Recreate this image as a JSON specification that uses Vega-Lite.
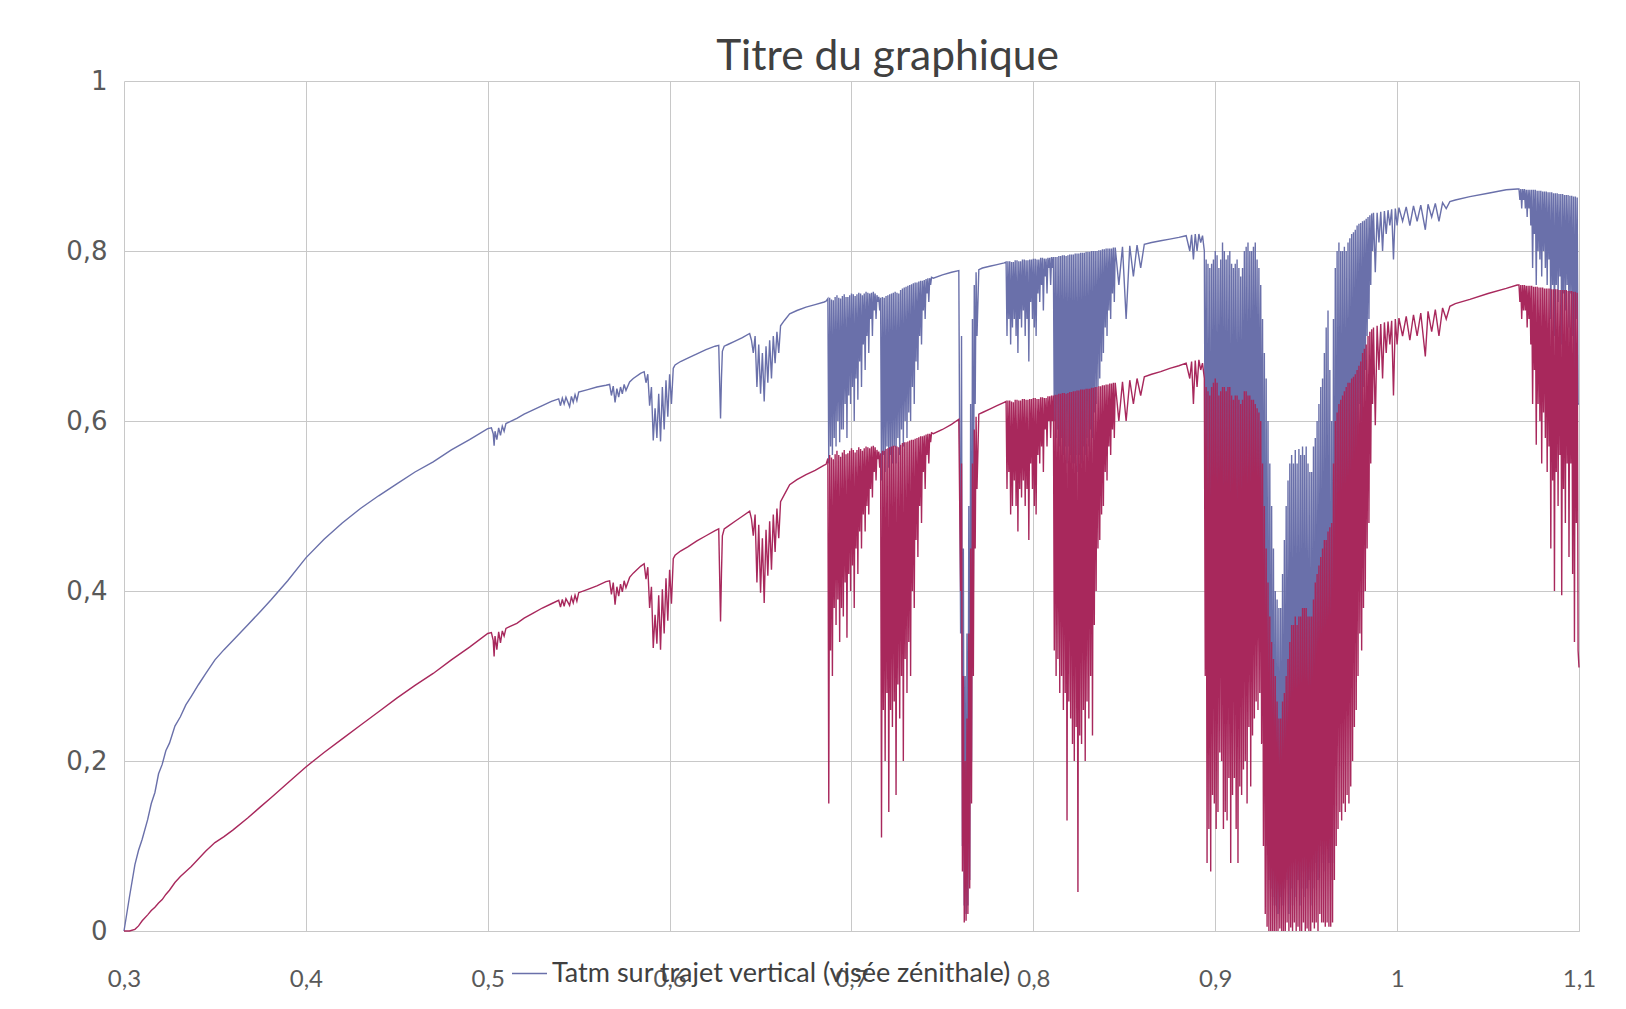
{"$schema":"https://vega.github.io/schema/vega-lite/v6.json","width":1455,"height":850,"autosize":{"type":"none"},"padding":{"left":124,"top":81,"right":47,"bottom":78},"background":"white","config":{"view":{"stroke":null}},
"title":{"text":"Titre du graphique","font":"Lato","fontSize":42.5,"fontWeight":"normal","color":"#404040","anchor":"middle","dx":36,"dy":52,"offset":8,"baseline":"alphabetic"},
"data":{"values":[
{"x":0.300,"b":0,"r":0},{"x":0.303,"b":0.040,"r":0},{"x":0.306,"b":0.078,"r":0.002},{"x":0.308,"b":0.095,"r":0.006},{"x":0.310,"b":0.108,"r":0.012},{"x":0.313,"b":0.131,"r":0.019},{"x":0.315,"b":0.150,"r":0.024},{"x":0.317,"b":0.163,"r":0.028},{"x":0.319,"b":0.185,"r":0.033},{"x":0.321,"b":0.196,"r":0.037},{"x":0.323,"b":0.212,"r":0.043},{"x":0.325,"b":0.221,"r":0.048},{"x":0.328,"b":0.241,"r":0.057},{"x":0.331,"b":0.252,"r":0.064},{"x":0.334,"b":0.266,"r":0.070},{"x":0.337,"b":0.276,"r":0.076},{"x":0.341,"b":0.290,"r":0.085},{"x":0.345,"b":0.303,"r":0.094},{"x":0.350,"b":0.319,"r":0.104},{"x":0.355,"b":0.331,"r":0.111},{"x":0.360,"b":0.342,"r":0.119},{"x":0.368,"b":0.360,"r":0.133},{"x":0.375,"b":0.376,"r":0.146},{"x":0.381,"b":0.390,"r":0.157},{"x":0.390,"b":0.412,"r":0.174},{"x":0.400,"b":0.439,"r":0.193},{"x":0.410,"b":0.461,"r":0.210},{"x":0.420,"b":0.480,"r":0.226},{"x":0.430,"b":0.497,"r":0.242},{"x":0.440,"b":0.512,"r":0.258},{"x":0.450,"b":0.526,"r":0.274},{"x":0.460,"b":0.540,"r":0.289},{"x":0.470,"b":0.552,"r":0.303},{"x":0.480,"b":0.566,"r":0.319},{"x":0.490,"b":0.578,"r":0.334},{"x":0.500,"b":0.591,"r":0.350},
{"x":0.502,"b":0.592,"r":0.351},{"x":0.503,"b":0.585,"r":0.342},{"x":0.5035,"b":0.571,"r":0.323},{"x":0.504,"b":0.588,"r":0.347},{"x":0.505,"b":0.578,"r":0.331},{"x":0.506,"b":0.592,"r":0.352},{"x":0.507,"b":0.583,"r":0.339},{"x":0.508,"b":0.594,"r":0.353},{"x":0.509,"b":0.588,"r":0.347},{"x":0.510,"b":0.597,"r":0.356},{"x":0.512,"b":0.599,"r":0.358},{"x":0.516,"b":0.603,"r":0.362},{"x":0.520,"b":0.608,"r":0.368},{"x":0.525,"b":0.613,"r":0.374},{"x":0.530,"b":0.618,"r":0.380},{"x":0.535,"b":0.623,"r":0.385},{"x":0.539,"b":0.626,"r":0.389},{"x":0.540,"b":0.618,"r":0.381},{"x":0.541,"b":0.627,"r":0.390},{"x":0.542,"b":0.620,"r":0.382},{"x":0.543,"b":0.628,"r":0.391},{"x":0.545,"b":0.617,"r":0.383},{"x":0.546,"b":0.629,"r":0.393},{"x":0.547,"b":0.622,"r":0.386},{"x":0.548,"b":0.631,"r":0.395},{"x":0.549,"b":0.624,"r":0.388},{"x":0.550,"b":0.634,"r":0.398},{"x":0.555,"b":0.637,"r":0.402},{"x":0.560,"b":0.640,"r":0.406},{"x":0.565,"b":0.642,"r":0.411},{"x":0.567,"b":0.643,"r":0.412},{"x":0.568,"b":0.630,"r":0.396},{"x":0.569,"b":0.641,"r":0.410},{"x":0.570,"b":0.622,"r":0.384},{"x":0.571,"b":0.638,"r":0.405},{"x":0.572,"b":0.628,"r":0.394},{"x":0.573,"b":0.640,"r":0.408},{"x":0.574,"b":0.632,"r":0.399},{"x":0.575,"b":0.643,"r":0.412},{"x":0.576,"b":0.636,"r":0.404},{"x":0.578,"b":0.646,"r":0.416},{"x":0.580,"b":0.650,"r":0.421},{"x":0.584,"b":0.656,"r":0.429},{"x":0.586,"b":0.658,"r":0.432},
{"x":0.587,"b":0.645,"r":0.414},{"x":0.588,"b":0.655,"r":0.428},{"x":0.589,"b":0.618,"r":0.380},{"x":0.590,"b":0.640,"r":0.405},{"x":0.591,"b":0.577,"r":0.333},{"x":0.592,"b":0.615,"r":0.372},{"x":0.593,"b":0.580,"r":0.338},{"x":0.594,"b":0.632,"r":0.395},{"x":0.595,"b":0.576,"r":0.331},{"x":0.596,"b":0.640,"r":0.402},{"x":0.597,"b":0.590,"r":0.350},{"x":0.598,"b":0.648,"r":0.415},{"x":0.599,"b":0.605,"r":0.365},{"x":0.600,"b":0.655,"r":0.425},{"x":0.601,"b":0.620,"r":0.385},{"x":0.602,"b":0.662,"r":0.438},{"x":0.603,"b":0.666,"r":0.442},{"x":0.606,"b":0.670,"r":0.447},{"x":0.610,"b":0.674,"r":0.452},{"x":0.615,"b":0.679,"r":0.459},{"x":0.620,"b":0.684,"r":0.465},{"x":0.625,"b":0.688,"r":0.471},{"x":0.627,"b":0.689,"r":0.473},{"x":0.628,"b":0.603,"r":0.364},{"x":0.6285,"b":0.650,"r":0.420},{"x":0.629,"b":0.682,"r":0.465},{"x":0.630,"b":0.688,"r":0.473},{"x":0.632,"b":0.690,"r":0.476},{"x":0.636,"b":0.694,"r":0.482},{"x":0.640,"b":0.698,"r":0.488},{"x":0.644,"b":0.703,"r":0.494},{"x":0.645,"b":0.695,"r":0.485},{"x":0.646,"b":0.680,"r":0.465},{"x":0.647,"b":0.700,"r":0.490},{"x":0.648,"b":0.640,"r":0.410},{"x":0.649,"b":0.690,"r":0.478},{"x":0.650,"b":0.632,"r":0.398},{"x":0.651,"b":0.680,"r":0.462},{"x":0.652,"b":0.623,"r":0.386},{"x":0.653,"b":0.688,"r":0.472},{"x":0.654,"b":0.645,"r":0.418},{"x":0.655,"b":0.695,"r":0.482},{"x":0.656,"b":0.650,"r":0.425},{"x":0.657,"b":0.700,"r":0.490},{"x":0.658,"b":0.668,"r":0.446},{"x":0.659,"b":0.705,"r":0.497},{"x":0.660,"b":0.680,"r":0.462},{"x":0.661,"b":0.712,"r":0.505},{"x":0.663,"b":0.718,"r":0.513},{"x":0.666,"b":0.726,"r":0.525},{"x":0.670,"b":0.730,"r":0.531},{"x":0.675,"b":0.734,"r":0.537},{"x":0.680,"b":0.737,"r":0.542},{"x":0.685,"b":0.740,"r":0.548},{"x":0.686,"b":0.741,"r":0.549},
{"x":0.687,"b":0.744,"r":0.556},{"x":0.6875,"b":0.55,"r":0.15},{"x":0.688,"b":0.745,"r":0.560},{"x":0.6885,"b":0.57,"r":0.33},{"x":0.689,"b":0.743,"r":0.557},{"x":0.6895,"b":0.56,"r":0.30},{"x":0.690,"b":0.742,"r":0.555},{"x":0.6905,"b":0.58,"r":0.38},{"x":0.691,"b":0.746,"r":0.561},{"x":0.6915,"b":0.57,"r":0.36},{"x":0.692,"b":0.748,"r":0.565},{"x":0.6925,"b":0.60,"r":0.39},{"x":0.693,"b":0.745,"r":0.560},{"x":0.6935,"b":0.575,"r":0.34},{"x":0.694,"b":0.744,"r":0.558},{"x":0.6945,"b":0.59,"r":0.38},{"x":0.695,"b":0.747,"r":0.563},{"x":0.6955,"b":0.59,"r":0.37},{"x":0.696,"b":0.749,"r":0.566},{"x":0.6965,"b":0.62,"r":0.41},{"x":0.697,"b":0.746,"r":0.561},{"x":0.6975,"b":0.58,"r":0.345},{"x":0.698,"b":0.746,"r":0.562},{"x":0.6985,"b":0.63,"r":0.42},{"x":0.699,"b":0.748,"r":0.565},{"x":0.6995,"b":0.62,"r":0.40},{"x":0.700,"b":0.750,"r":0.568},{"x":0.7005,"b":0.64,"r":0.43},{"x":0.701,"b":0.749,"r":0.566},{"x":0.7015,"b":0.60,"r":0.38},{"x":0.702,"b":0.747,"r":0.563},{"x":0.7025,"b":0.65,"r":0.45},{"x":0.703,"b":0.749,"r":0.566},{"x":0.7035,"b":0.625,"r":0.42},{"x":0.704,"b":0.751,"r":0.569},{"x":0.7045,"b":0.67,"r":0.47},{"x":0.705,"b":0.750,"r":0.567},{"x":0.7055,"b":0.64,"r":0.45},{"x":0.706,"b":0.748,"r":0.565},{"x":0.7065,"b":0.69,"r":0.49},{"x":0.707,"b":0.750,"r":0.568},{"x":0.7075,"b":0.66,"r":0.47},{"x":0.708,"b":0.752,"r":0.570},{"x":0.7085,"b":0.70,"r":0.50},{"x":0.709,"b":0.751,"r":0.569},{"x":0.7095,"b":0.68,"r":0.49},{"x":0.710,"b":0.750,"r":0.568},{"x":0.7105,"b":0.72,"r":0.52},{"x":0.711,"b":0.751,"r":0.570},{"x":0.7115,"b":0.70,"r":0.51},{"x":0.712,"b":0.752,"r":0.571},{"x":0.7125,"b":0.73,"r":0.54},{"x":0.713,"b":0.750,"r":0.569},{"x":0.7135,"b":0.72,"r":0.53},{"x":0.714,"b":0.748,"r":0.566},{"x":0.7145,"b":0.74,"r":0.555},{"x":0.715,"b":0.746,"r":0.564},{"x":0.7155,"b":0.73,"r":0.545},{"x":0.716,"b":0.745,"r":0.562},{"x":0.7165,"b":0.53,"r":0.11},{"x":0.717,"b":0.746,"r":0.565},{"x":0.7175,"b":0.56,"r":0.26},{"x":0.718,"b":0.745,"r":0.565},{"x":0.7185,"b":0.54,"r":0.20},{"x":0.719,"b":0.747,"r":0.567},{"x":0.7195,"b":0.57,"r":0.28},{"x":0.720,"b":0.748,"r":0.568},{"x":0.7205,"b":0.545,"r":0.14},{"x":0.721,"b":0.749,"r":0.569},{"x":0.7215,"b":0.56,"r":0.26},{"x":0.722,"b":0.750,"r":0.570},{"x":0.7225,"b":0.55,"r":0.24},{"x":0.723,"b":0.751,"r":0.571},{"x":0.7235,"b":0.57,"r":0.27},{"x":0.724,"b":0.752,"r":0.571},{"x":0.7245,"b":0.55,"r":0.16},{"x":0.725,"b":0.751,"r":0.570},{"x":0.7255,"b":0.58,"r":0.29},{"x":0.726,"b":0.750,"r":0.569},{"x":0.7265,"b":0.56,"r":0.25},{"x":0.727,"b":0.754,"r":0.572},{"x":0.7275,"b":0.59,"r":0.30},{"x":0.728,"b":0.756,"r":0.574},{"x":0.7285,"b":0.57,"r":0.20},{"x":0.729,"b":0.757,"r":0.575},{"x":0.7295,"b":0.60,"r":0.32},{"x":0.730,"b":0.758,"r":0.575},{"x":0.7305,"b":0.58,"r":0.28},{"x":0.731,"b":0.759,"r":0.576},{"x":0.7315,"b":0.61,"r":0.34},{"x":0.732,"b":0.760,"r":0.577},{"x":0.7325,"b":0.60,"r":0.30},{"x":0.733,"b":0.761,"r":0.578},{"x":0.7335,"b":0.64,"r":0.40},{"x":0.734,"b":0.762,"r":0.578},{"x":0.7345,"b":0.62,"r":0.38},{"x":0.735,"b":0.763,"r":0.579},{"x":0.7355,"b":0.67,"r":0.46},{"x":0.736,"b":0.763,"r":0.580},{"x":0.7365,"b":0.66,"r":0.44},{"x":0.737,"b":0.764,"r":0.581},{"x":0.7375,"b":0.70,"r":0.50},{"x":0.738,"b":0.765,"r":0.582},{"x":0.7385,"b":0.69,"r":0.48},{"x":0.739,"b":0.765,"r":0.582},{"x":0.7395,"b":0.73,"r":0.54},{"x":0.740,"b":0.766,"r":0.583},{"x":0.7405,"b":0.72,"r":0.52},{"x":0.741,"b":0.767,"r":0.584},{"x":0.7415,"b":0.75,"r":0.56},{"x":0.742,"b":0.768,"r":0.585},{"x":0.7425,"b":0.74,"r":0.55},{"x":0.743,"b":0.768,"r":0.585},{"x":0.7435,"b":0.76,"r":0.575},{"x":0.744,"b":0.769,"r":0.586},{"x":0.745,"b":0.768,"r":0.585},{"x":0.750,"b":0.772,"r":0.590},{"x":0.755,"b":0.775,"r":0.596},{"x":0.759,"b":0.777,"r":0.602},
{"x":0.760,"b":0.35,"r":0.40},{"x":0.7605,"b":0.70,"r":0.55},{"x":0.761,"b":0.10,"r":0.07},{"x":0.7615,"b":0.45,"r":0.30},{"x":0.762,"b":0.03,"r":0.01},{"x":0.7625,"b":0.30,"r":0.20},{"x":0.763,"b":0.02,"r":0.012},{"x":0.7635,"b":0.35,"r":0.25},{"x":0.764,"b":0.03,"r":0.02},{"x":0.7645,"b":0.50,"r":0.35},{"x":0.765,"b":0.06,"r":0.05},{"x":0.7655,"b":0.62,"r":0.45},{"x":0.766,"b":0.20,"r":0.15},{"x":0.7665,"b":0.72,"r":0.55},{"x":0.767,"b":0.40,"r":0.30},{"x":0.7675,"b":0.76,"r":0.59},{"x":0.768,"b":0.62,"r":0.45},{"x":0.7685,"b":0.775,"r":0.605},{"x":0.769,"b":0.70,"r":0.52},{"x":0.770,"b":0.778,"r":0.608},{"x":0.772,"b":0.780,"r":0.610},{"x":0.776,"b":0.782,"r":0.614},{"x":0.780,"b":0.784,"r":0.618},{"x":0.784,"b":0.786,"r":0.622},
{"x":0.785,"b":0.787,"r":0.623},{"x":0.7855,"b":0.70,"r":0.52},{"x":0.786,"b":0.788,"r":0.624},{"x":0.7865,"b":0.72,"r":0.54},{"x":0.787,"b":0.788,"r":0.624},{"x":0.7875,"b":0.69,"r":0.49},{"x":0.788,"b":0.787,"r":0.623},{"x":0.7885,"b":0.71,"r":0.50},{"x":0.789,"b":0.787,"r":0.622},{"x":0.7895,"b":0.72,"r":0.53},{"x":0.790,"b":0.789,"r":0.625},{"x":0.7905,"b":0.70,"r":0.50},{"x":0.791,"b":0.789,"r":0.625},{"x":0.7915,"b":0.68,"r":0.47},{"x":0.792,"b":0.788,"r":0.624},{"x":0.7925,"b":0.72,"r":0.52},{"x":0.793,"b":0.788,"r":0.624},{"x":0.7935,"b":0.71,"r":0.51},{"x":0.794,"b":0.790,"r":0.626},{"x":0.7945,"b":0.73,"r":0.53},{"x":0.795,"b":0.790,"r":0.626},{"x":0.7955,"b":0.70,"r":0.50},{"x":0.796,"b":0.789,"r":0.625},{"x":0.7965,"b":0.72,"r":0.52},{"x":0.797,"b":0.789,"r":0.625},{"x":0.7975,"b":0.67,"r":0.46},{"x":0.798,"b":0.790,"r":0.626},{"x":0.7985,"b":0.74,"r":0.55},{"x":0.799,"b":0.790,"r":0.626},{"x":0.7995,"b":0.72,"r":0.52},{"x":0.800,"b":0.791,"r":0.627},{"x":0.8005,"b":0.71,"r":0.50},{"x":0.801,"b":0.791,"r":0.627},{"x":0.8015,"b":0.70,"r":0.49},{"x":0.802,"b":0.790,"r":0.626},{"x":0.8025,"b":0.75,"r":0.56},{"x":0.803,"b":0.790,"r":0.626},{"x":0.8035,"b":0.74,"r":0.55},{"x":0.804,"b":0.792,"r":0.628},{"x":0.8045,"b":0.76,"r":0.57},{"x":0.805,"b":0.792,"r":0.628},{"x":0.8055,"b":0.73,"r":0.54},{"x":0.806,"b":0.791,"r":0.627},{"x":0.8065,"b":0.77,"r":0.59},{"x":0.807,"b":0.791,"r":0.627},{"x":0.8075,"b":0.75,"r":0.57},{"x":0.808,"b":0.792,"r":0.629},{"x":0.8085,"b":0.78,"r":0.60},{"x":0.809,"b":0.792,"r":0.629},{"x":0.8095,"b":0.76,"r":0.58},{"x":0.810,"b":0.793,"r":0.630},{"x":0.8105,"b":0.78,"r":0.60},{"x":0.811,"b":0.793,"r":0.630},{"x":0.8115,"b":0.60,"r":0.33},
{"x":0.812,"b":0.793,"r":0.631},{"x":0.8125,"b":0.58,"r":0.30},{"x":0.813,"b":0.793,"r":0.631},{"x":0.8135,"b":0.59,"r":0.32},{"x":0.814,"b":0.794,"r":0.632},{"x":0.8145,"b":0.57,"r":0.28},{"x":0.815,"b":0.794,"r":0.632},{"x":0.8155,"b":0.58,"r":0.30},{"x":0.816,"b":0.795,"r":0.633},{"x":0.8165,"b":0.56,"r":0.26},{"x":0.817,"b":0.795,"r":0.633},{"x":0.8175,"b":0.57,"r":0.28},{"x":0.818,"b":0.794,"r":0.632},{"x":0.8185,"b":0.55,"r":0.13},{"x":0.819,"b":0.795,"r":0.633},{"x":0.8195,"b":0.57,"r":0.27},{"x":0.820,"b":0.796,"r":0.634},{"x":0.8205,"b":0.56,"r":0.25},{"x":0.821,"b":0.796,"r":0.634},{"x":0.8215,"b":0.55,"r":0.22},{"x":0.822,"b":0.796,"r":0.635},{"x":0.8225,"b":0.55,"r":0.20},{"x":0.823,"b":0.797,"r":0.635},{"x":0.8235,"b":0.56,"r":0.24},{"x":0.824,"b":0.797,"r":0.636},{"x":0.8245,"b":0.54,"r":0.046},{"x":0.825,"b":0.797,"r":0.636},{"x":0.8255,"b":0.56,"r":0.23},{"x":0.826,"b":0.798,"r":0.637},{"x":0.8265,"b":0.55,"r":0.22},{"x":0.827,"b":0.798,"r":0.637},{"x":0.8275,"b":0.57,"r":0.26},{"x":0.828,"b":0.798,"r":0.637},{"x":0.8285,"b":0.56,"r":0.20},{"x":0.829,"b":0.799,"r":0.638},{"x":0.8295,"b":0.58,"r":0.27},{"x":0.830,"b":0.799,"r":0.638},{"x":0.8305,"b":0.57,"r":0.25},{"x":0.831,"b":0.799,"r":0.638},{"x":0.8315,"b":0.59,"r":0.30},{"x":0.832,"b":0.800,"r":0.639},{"x":0.8325,"b":0.58,"r":0.23},{"x":0.833,"b":0.800,"r":0.639},{"x":0.8335,"b":0.61,"r":0.36},{"x":0.834,"b":0.800,"r":0.640},{"x":0.8345,"b":0.62,"r":0.40},{"x":0.835,"b":0.800,"r":0.640},{"x":0.8355,"b":0.64,"r":0.45},{"x":0.836,"b":0.801,"r":0.641},{"x":0.8365,"b":0.65,"r":0.46},{"x":0.837,"b":0.801,"r":0.641},{"x":0.8375,"b":0.67,"r":0.49},{"x":0.838,"b":0.802,"r":0.642},{"x":0.8385,"b":0.68,"r":0.50},{"x":0.839,"b":0.802,"r":0.642},{"x":0.8395,"b":0.71,"r":0.54},{"x":0.840,"b":0.803,"r":0.643},{"x":0.8405,"b":0.70,"r":0.53},{"x":0.841,"b":0.803,"r":0.643},{"x":0.8415,"b":0.73,"r":0.57},{"x":0.842,"b":0.803,"r":0.644},{"x":0.8425,"b":0.72,"r":0.56},{"x":0.843,"b":0.803,"r":0.644},{"x":0.8435,"b":0.75,"r":0.59},{"x":0.844,"b":0.804,"r":0.645},{"x":0.8445,"b":0.74,"r":0.58},{"x":0.845,"b":0.804,"r":0.645},
{"x":0.847,"b":0.76,"r":0.60},{"x":0.849,"b":0.805,"r":0.646},{"x":0.851,"b":0.72,"r":0.60},{"x":0.853,"b":0.806,"r":0.648},{"x":0.855,"b":0.77,"r":0.62},{"x":0.857,"b":0.807,"r":0.650},{"x":0.859,"b":0.78,"r":0.63},{"x":0.861,"b":0.808,"r":0.652},{"x":0.865,"b":0.810,"r":0.655},{"x":0.870,"b":0.812,"r":0.658},{"x":0.875,"b":0.814,"r":0.662},{"x":0.880,"b":0.816,"r":0.665},{"x":0.884,"b":0.818,"r":0.668},{"x":0.886,"b":0.80,"r":0.65},{"x":0.887,"b":0.819,"r":0.670},{"x":0.888,"b":0.79,"r":0.62},{"x":0.889,"b":0.820,"r":0.671},{"x":0.890,"b":0.80,"r":0.64},{"x":0.891,"b":0.820,"r":0.672},{"x":0.892,"b":0.81,"r":0.66},{"x":0.893,"b":0.818,"r":0.668},
{"x":0.894,"b":0.80,"r":0.65},{"x":0.8945,"b":0.50,"r":0.30},{"x":0.895,"b":0.79,"r":0.64},{"x":0.8955,"b":0.35,"r":0.08},{"x":0.896,"b":0.785,"r":0.635},{"x":0.8965,"b":0.40,"r":0.12},{"x":0.897,"b":0.78,"r":0.63},{"x":0.8975,"b":0.33,"r":0.07},{"x":0.898,"b":0.785,"r":0.64},{"x":0.8985,"b":0.42,"r":0.16},{"x":0.899,"b":0.79,"r":0.645},{"x":0.8995,"b":0.42,"r":0.15},{"x":0.900,"b":0.80,"r":0.65},{"x":0.9005,"b":0.38,"r":0.12},{"x":0.901,"b":0.795,"r":0.645},{"x":0.9015,"b":0.40,"r":0.14},{"x":0.902,"b":0.78,"r":0.63},{"x":0.9025,"b":0.46,"r":0.21},{"x":0.903,"b":0.79,"r":0.635},{"x":0.9035,"b":0.45,"r":0.20},{"x":0.904,"b":0.81,"r":0.64},{"x":0.9045,"b":0.38,"r":0.12},{"x":0.905,"b":0.80,"r":0.64},{"x":0.9055,"b":0.40,"r":0.14},{"x":0.906,"b":0.79,"r":0.635},{"x":0.9065,"b":0.40,"r":0.13},{"x":0.907,"b":0.795,"r":0.64},{"x":0.9075,"b":0.44,"r":0.18},{"x":0.908,"b":0.80,"r":0.64},{"x":0.9085,"b":0.33,"r":0.08},{"x":0.909,"b":0.785,"r":0.63},{"x":0.9095,"b":0.42,"r":0.16},{"x":0.910,"b":0.78,"r":0.625},{"x":0.9105,"b":0.44,"r":0.18},{"x":0.911,"b":0.785,"r":0.63},{"x":0.9115,"b":0.38,"r":0.12},{"x":0.912,"b":0.79,"r":0.63},{"x":0.9125,"b":0.36,"r":0.08},{"x":0.913,"b":0.78,"r":0.625},{"x":0.9135,"b":0.43,"r":0.17},{"x":0.914,"b":0.77,"r":0.62},{"x":0.9145,"b":0.42,"r":0.16},{"x":0.915,"b":0.78,"r":0.625},{"x":0.9155,"b":0.46,"r":0.19},{"x":0.916,"b":0.80,"r":0.635},{"x":0.9165,"b":0.45,"r":0.20},{"x":0.917,"b":0.805,"r":0.635},{"x":0.9175,"b":0.40,"r":0.15},{"x":0.918,"b":0.81,"r":0.63},{"x":0.9185,"b":0.47,"r":0.24},{"x":0.919,"b":0.80,"r":0.63},{"x":0.9195,"b":0.44,"r":0.17},{"x":0.920,"b":0.80,"r":0.625},{"x":0.9205,"b":0.48,"r":0.23},{"x":0.921,"b":0.805,"r":0.625},{"x":0.9215,"b":0.48,"r":0.25},{"x":0.922,"b":0.81,"r":0.62},{"x":0.9225,"b":0.50,"r":0.27},{"x":0.923,"b":0.79,"r":0.615},{"x":0.9235,"b":0.49,"r":0.26},
{"x":0.924,"b":0.78,"r":0.61},{"x":0.9245,"b":0.50,"r":0.28},{"x":0.925,"b":0.76,"r":0.60},{"x":0.9255,"b":0.45,"r":0.22},{"x":0.926,"b":0.72,"r":0.55},{"x":0.9265,"b":0.30,"r":0.10},{"x":0.927,"b":0.68,"r":0.50},{"x":0.9275,"b":0.15,"r":0.02},{"x":0.928,"b":0.65,"r":0.45},{"x":0.9285,"b":0.10,"r":0.005},{"x":0.929,"b":0.60,"r":0.41},{"x":0.9295,"b":0.06,"r":0.0},{"x":0.930,"b":0.55,"r":0.37},{"x":0.9305,"b":0.05,"r":0.0},{"x":0.931,"b":0.50,"r":0.34},{"x":0.9315,"b":0.04,"r":0.0},{"x":0.932,"b":0.45,"r":0.32},{"x":0.9325,"b":0.03,"r":0.0},{"x":0.933,"b":0.40,"r":0.30},{"x":0.9335,"b":0.03,"r":0.0},{"x":0.934,"b":0.39,"r":0.27},{"x":0.9345,"b":0.02,"r":0.0},{"x":0.935,"b":0.38,"r":0.25},{"x":0.9355,"b":0.04,"r":0.003},{"x":0.936,"b":0.38,"r":0.25},{"x":0.9365,"b":0.03,"r":0.0},{"x":0.937,"b":0.42,"r":0.27},{"x":0.9375,"b":0.03,"r":0.0},{"x":0.938,"b":0.46,"r":0.28},{"x":0.9385,"b":0.05,"r":0.0},{"x":0.939,"b":0.50,"r":0.30},{"x":0.9395,"b":0.06,"r":0.01},{"x":0.940,"b":0.53,"r":0.32},{"x":0.9405,"b":0.02,"r":0.0},{"x":0.941,"b":0.55,"r":0.34},{"x":0.9415,"b":0.05,"r":0.004},{"x":0.942,"b":0.56,"r":0.36},{"x":0.9425,"b":0.03,"r":0.0},{"x":0.943,"b":0.55,"r":0.36},{"x":0.9435,"b":0.08,"r":0.01},{"x":0.944,"b":0.566,"r":0.37},{"x":0.9445,"b":0.04,"r":0.0},{"x":0.945,"b":0.55,"r":0.36},{"x":0.9455,"b":0.06,"r":0.005},{"x":0.946,"b":0.567,"r":0.37},{"x":0.9465,"b":0.03,"r":0.0},{"x":0.947,"b":0.56,"r":0.37},{"x":0.9475,"b":0.05,"r":0.0},{"x":0.948,"b":0.57,"r":0.38},{"x":0.9485,"b":0.07,"r":0.01},{"x":0.949,"b":0.56,"r":0.38},{"x":0.9495,"b":0.04,"r":0.0},{"x":0.950,"b":0.57,"r":0.38},{"x":0.9505,"b":0.05,"r":0.003},{"x":0.951,"b":0.55,"r":0.37},{"x":0.9515,"b":0.06,"r":0.0},{"x":0.952,"b":0.54,"r":0.37},{"x":0.9525,"b":0.03,"r":0.0},{"x":0.953,"b":0.54,"r":0.37},{"x":0.9535,"b":0.07,"r":0.01},{"x":0.954,"b":0.57,"r":0.39},{"x":0.9545,"b":0.05,"r":0.003},{"x":0.955,"b":0.58,"r":0.41},{"x":0.9555,"b":0.08,"r":0.01},{"x":0.956,"b":0.60,"r":0.42},{"x":0.9565,"b":0.06,"r":0.0},{"x":0.957,"b":0.62,"r":0.43},{"x":0.9575,"b":0.10,"r":0.02},{"x":0.958,"b":0.64,"r":0.44},{"x":0.9585,"b":0.08,"r":0.01},{"x":0.959,"b":0.65,"r":0.45},{"x":0.9595,"b":0.09,"r":0.01},{"x":0.960,"b":0.68,"r":0.46},{"x":0.9605,"b":0.07,"r":0.005},{"x":0.961,"b":0.71,"r":0.46},{"x":0.9615,"b":0.10,"r":0.01},{"x":0.962,"b":0.73,"r":0.47},{"x":0.9625,"b":0.08,"r":0.005},{"x":0.963,"b":0.66,"r":0.475},{"x":0.9635,"b":0.06,"r":0.005},{"x":0.964,"b":0.60,"r":0.48},{"x":0.9645,"b":0.08,"r":0.01},{"x":0.965,"b":0.72,"r":0.55},{"x":0.9655,"b":0.20,"r":0.06},{"x":0.966,"b":0.78,"r":0.60},{"x":0.9665,"b":0.28,"r":0.10},{"x":0.967,"b":0.80,"r":0.61},{"x":0.9675,"b":0.32,"r":0.12},{"x":0.968,"b":0.81,"r":0.62},{"x":0.9685,"b":0.38,"r":0.14},{"x":0.969,"b":0.80,"r":0.625},{"x":0.9695,"b":0.36,"r":0.13},{"x":0.970,"b":0.80,"r":0.63},{"x":0.9705,"b":0.40,"r":0.15},{"x":0.971,"b":0.805,"r":0.635},{"x":0.9715,"b":0.38,"r":0.14},{"x":0.972,"b":0.80,"r":0.64},{"x":0.9725,"b":0.42,"r":0.16},{"x":0.973,"b":0.81,"r":0.645},{"x":0.9735,"b":0.40,"r":0.15},{"x":0.974,"b":0.815,"r":0.645},{"x":0.9745,"b":0.44,"r":0.17},{"x":0.975,"b":0.82,"r":0.65},{"x":0.9755,"b":0.48,"r":0.20},{"x":0.976,"b":0.822,"r":0.652},{"x":0.9765,"b":0.52,"r":0.24},{"x":0.977,"b":0.825,"r":0.655},{"x":0.9775,"b":0.55,"r":0.26},{"x":0.978,"b":0.83,"r":0.66},{"x":0.9785,"b":0.58,"r":0.30},{"x":0.979,"b":0.832,"r":0.665},{"x":0.9795,"b":0.62,"r":0.35},{"x":0.980,"b":0.833,"r":0.67},{"x":0.9805,"b":0.60,"r":0.33},{"x":0.981,"b":0.835,"r":0.68},{"x":0.9815,"b":0.64,"r":0.38},{"x":0.982,"b":0.836,"r":0.685},{"x":0.9825,"b":0.66,"r":0.40},{"x":0.983,"b":0.838,"r":0.69},{"x":0.9835,"b":0.70,"r":0.45},{"x":0.984,"b":0.84,"r":0.70},{"x":0.9845,"b":0.72,"r":0.48},{"x":0.985,"b":0.842,"r":0.705},{"x":0.9855,"b":0.76,"r":0.55},{"x":0.986,"b":0.844,"r":0.708},{"x":0.9865,"b":0.80,"r":0.62},
{"x":0.987,"b":0.845,"r":0.71},{"x":0.988,"b":0.775,"r":0.595},{"x":0.989,"b":0.845,"r":0.712},{"x":0.990,"b":0.81,"r":0.66},{"x":0.991,"b":0.846,"r":0.714},{"x":0.992,"b":0.80,"r":0.65},{"x":0.993,"b":0.847,"r":0.716},{"x":0.994,"b":0.82,"r":0.68},{"x":0.995,"b":0.848,"r":0.717},{"x":0.996,"b":0.83,"r":0.69},{"x":0.997,"b":0.849,"r":0.718},{"x":0.998,"b":0.79,"r":0.63},{"x":0.999,"b":0.850,"r":0.720},{"x":1.000,"b":0.83,"r":0.69},{"x":1.001,"b":0.851,"r":0.721},{"x":1.003,"b":0.835,"r":0.70},{"x":1.005,"b":0.852,"r":0.723},{"x":1.007,"b":0.83,"r":0.695},{"x":1.009,"b":0.853,"r":0.725},{"x":1.011,"b":0.835,"r":0.70},{"x":1.013,"b":0.854,"r":0.727},{"x":1.0155,"b":0.825,"r":0.676},{"x":1.017,"b":0.855,"r":0.729},{"x":1.019,"b":0.84,"r":0.705},{"x":1.021,"b":0.856,"r":0.731},{"x":1.023,"b":0.835,"r":0.70},{"x":1.025,"b":0.857,"r":0.733},{"x":1.027,"b":0.85,"r":0.72},{"x":1.029,"b":0.858,"r":0.735},{"x":1.032,"b":0.860,"r":0.738},{"x":1.040,"b":0.864,"r":0.743},{"x":1.050,"b":0.868,"r":0.750},{"x":1.060,"b":0.872,"r":0.756},{"x":1.066,"b":0.873,"r":0.760},
{"x":1.067,"b":0.873,"r":0.760},{"x":1.0675,"b":0.86,"r":0.74},{"x":1.068,"b":0.873,"r":0.760},{"x":1.0685,"b":0.85,"r":0.72},{"x":1.069,"b":0.873,"r":0.760},{"x":1.0695,"b":0.86,"r":0.73},{"x":1.070,"b":0.873,"r":0.760},{"x":1.0705,"b":0.85,"r":0.73},{"x":1.071,"b":0.872,"r":0.759},{"x":1.0715,"b":0.84,"r":0.71},{"x":1.072,"b":0.872,"r":0.759},{"x":1.0725,"b":0.85,"r":0.72},{"x":1.073,"b":0.872,"r":0.759},{"x":1.0735,"b":0.83,"r":0.69},{"x":1.074,"b":0.872,"r":0.759},{"x":1.0745,"b":0.78,"r":0.62},{"x":1.075,"b":0.872,"r":0.758},{"x":1.0755,"b":0.82,"r":0.66},{"x":1.076,"b":0.872,"r":0.758},{"x":1.0765,"b":0.76,"r":0.572},{"x":1.077,"b":0.871,"r":0.758},{"x":1.0775,"b":0.80,"r":0.62},{"x":1.078,"b":0.871,"r":0.757},{"x":1.0785,"b":0.79,"r":0.60},{"x":1.079,"b":0.871,"r":0.757},{"x":1.0795,"b":0.77,"r":0.55},{"x":1.080,"b":0.870,"r":0.757},{"x":1.0805,"b":0.80,"r":0.61},{"x":1.081,"b":0.870,"r":0.756},{"x":1.0815,"b":0.78,"r":0.58},{"x":1.082,"b":0.870,"r":0.756},{"x":1.0825,"b":0.76,"r":0.54},{"x":1.083,"b":0.869,"r":0.756},{"x":1.0835,"b":0.79,"r":0.57},{"x":1.084,"b":0.869,"r":0.756},{"x":1.0845,"b":0.72,"r":0.45},{"x":1.085,"b":0.869,"r":0.755},{"x":1.0855,"b":0.76,"r":0.53},{"x":1.086,"b":0.868,"r":0.755},{"x":1.0865,"b":0.70,"r":0.40},{"x":1.087,"b":0.868,"r":0.755},{"x":1.0875,"b":0.76,"r":0.54},{"x":1.088,"b":0.868,"r":0.755},{"x":1.0885,"b":0.74,"r":0.50},{"x":1.089,"b":0.867,"r":0.754},{"x":1.0895,"b":0.77,"r":0.56},{"x":1.090,"b":0.867,"r":0.754},{"x":1.0905,"b":0.69,"r":0.395},{"x":1.091,"b":0.867,"r":0.754},{"x":1.0915,"b":0.75,"r":0.52},{"x":1.092,"b":0.866,"r":0.754},{"x":1.0925,"b":0.73,"r":0.48},{"x":1.093,"b":0.866,"r":0.754},{"x":1.0935,"b":0.76,"r":0.55},{"x":1.094,"b":0.866,"r":0.753},{"x":1.0945,"b":0.71,"r":0.44},{"x":1.095,"b":0.865,"r":0.753},{"x":1.0955,"b":0.75,"r":0.55},{"x":1.096,"b":0.865,"r":0.753},{"x":1.0965,"b":0.70,"r":0.42},{"x":1.097,"b":0.864,"r":0.752},{"x":1.0975,"b":0.66,"r":0.34},{"x":1.098,"b":0.864,"r":0.752},{"x":1.0985,"b":0.72,"r":0.48},{"x":1.099,"b":0.863,"r":0.751},{"x":1.0995,"b":0.62,"r":0.33},{"x":1.100,"b":0.62,"r":0.31}
]},
"transform":[{"fold":["b","r"],"as":["serie","T"]}],
"mark":{"type":"line","strokeWidth":1.4},
"encoding":{
"x":{"field":"x","type":"quantitative","scale":{"domain":[0.3,1.1],"nice":false,"zero":false},"axis":{"values":[0.3,0.4,0.5,0.6,0.7,0.8,0.9,1,1.1],"title":null,"grid":true,"gridColor":"#c8c8c8","domainColor":"#c8c8c8","ticks":false,"labelFont":"Lato","labelFontSize":24,"labelColor":"#595959","labelPadding":36,"labelFlush":false,"labelOverlap":false,"labelExpr":"replace(format(datum.value,'.1~f'),'.',',')"}},
"y":{"field":"T","type":"quantitative","scale":{"domain":[0,1],"nice":false},"axis":{"values":[0,0.2,0.4,0.6,0.8,1],"title":null,"grid":true,"gridColor":"#c8c8c8","domain":false,"ticks":false,"labelFont":"DejaVu Sans","labelFontSize":26,"labelColor":"#595959","labelPadding":17,"labelFlush":false,"labelOverlap":false,"labelExpr":"replace(format(datum.value,'.1~f'),'.',',')"}},
"color":{"field":"serie","type":"nominal","scale":{"domain":["b","r"],"range":["#6a70aa","#a8285c"]},"legend":{"orient":"none","legendX":387,"legendY":874,"direction":"horizontal","values":["b"],"title":null,"labelExpr":"datum.label == 'b' ? 'Tatm sur trajet vertical (visée zénithale)' : 'Tatm sur trajet oblique'","labelLimit":0,"labelFont":"Lato","labelFontSize":27,"labelColor":"#404040","symbolType":"stroke","symbolSize":1225,"symbolStrokeWidth":1.5,"labelOffset":4,"encode":{"symbols":{"update":{"stroke":{"value":"#8c8c8c"}}}}}}
}}
